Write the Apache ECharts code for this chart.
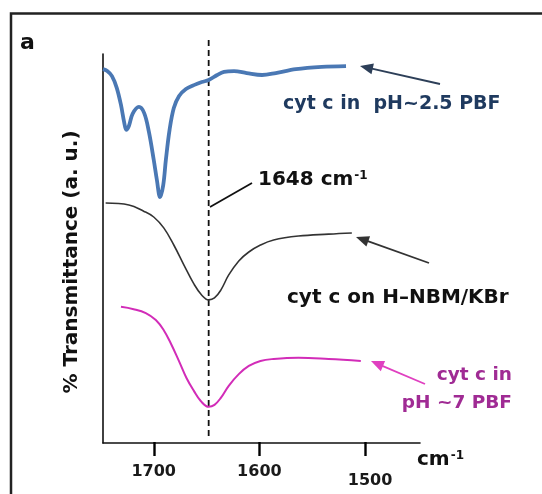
<!DOCTYPE html>
<html>
<head>
<meta charset="utf-8">
<script src="https://cdn.jsdelivr.net/npm/echarts@6/dist/echarts.min.js"></script>
<style>
  html, body { margin: 0; padding: 0; background: #fff; }
  #chart { width: 542px; height: 494px; }
</style>
</head>
<body>
<div id="chart"></div>
<script>
// FTIR amide I region, wavenumber (cm-1) vs. transmittance (offset traces, a.u.)
const tickValues = [1700, 1600, 1500];
const markerWavenumber = 1648;

// cyt c in pH~2.5 PBF
const acidicTrace = [
  [1748, 96.1], [1744, 95.6], [1739.5, 94.3], [1735, 91.3], [1731, 86.9],
  [1728, 82.5], [1726, 80.5], [1723.5, 81.5], [1720, 84.6], [1714, 86.4],
  [1709, 84.8], [1704.5, 79.9], [1700, 72.8], [1697, 67.6], [1694, 63.2],
  [1691, 66.3], [1688.5, 72.8], [1685, 80.5], [1681, 86.1], [1676, 89.2],
  [1669.5, 91.0], [1662, 92.0], [1654.5, 92.8], [1648, 93.3], [1640, 94.6],
  [1633.5, 95.4], [1624, 95.6], [1612, 95.1], [1597.5, 94.6], [1584.5, 95.1],
  [1565.5, 96.1], [1541, 96.7], [1518, 96.9]
];

// cyt c on H-NBM/KBr
const nbmTrace = [
  [1745.5, 61.7], [1723.5, 61.2], [1709.5, 59.6], [1700, 58.1], [1690.5, 55.3],
  [1681, 50.9], [1671.5, 45.8], [1662, 40.9], [1654.5, 38.0], [1648, 36.8],
  [1642.5, 37.3], [1636.5, 39.3], [1629, 43.2], [1619.5, 46.8], [1610, 49.1],
  [1599, 50.9], [1586.5, 52.2], [1563, 53.2], [1534.5, 53.7], [1512.5, 54.0]
];

// cyt c in pH ~7 PBF
const neutralTrace = [
  [1731, 35.0], [1719, 34.4], [1707.5, 33.4], [1698, 31.6], [1690.5, 29.0],
  [1684, 25.7], [1676.5, 21.3], [1669, 16.7], [1662, 13.4], [1655.5, 10.8],
  [1648, 9.3], [1642.5, 9.8], [1636.5, 11.6], [1629, 14.7], [1619.5, 17.7],
  [1610, 19.8], [1599, 21.1], [1586.5, 21.6], [1563, 21.9], [1534.5, 21.6],
  [1504, 21.1]
];

const FONT = '"DejaVu Sans", "Liberation Sans", Arial, sans-serif';
const TICK_LENGTH = 13;

function arrow(tip, tail, color, width) {
  const dx = tip[0] - tail[0], dy = tip[1] - tail[1];
  const len = Math.hypot(dx, dy);
  const ux = dx / len, uy = dy / len;
  const L = 13, W = 11;
  const bx = tip[0] - ux * L, by = tip[1] - uy * L;
  const nx = -uy, ny = ux;
  return [
    { type: 'line', silent: true,
      shape: { x1: tail[0], y1: tail[1], x2: bx + ux * 2, y2: by + uy * 2 },
      style: { stroke: color, lineWidth: width } },
    { type: 'polygon', silent: true,
      shape: { points: [tip, [bx + nx * W / 2, by + ny * W / 2], [bx - nx * W / 2, by - ny * W / 2]] },
      style: { fill: color } }
  ];
}

function label(x, y, text, size, align, color, rich) {
  return {
    type: 'text', silent: true, x: x, y: y,
    style: {
      text: text, align: align || 'left', verticalAlign: 'middle',
      fill: color || '#111', font: 'bold ' + size + 'px ' + FONT, rich: rich
    }
  };
}

const supRich = (size, color) => ({
  b: { fontSize: size, fontWeight: 'bold', fontFamily: FONT, color: color },
  s: { fontSize: Math.round(size * 0.6), fontWeight: 'bold', fontFamily: FONT, color: color,
       verticalAlign: 'top', padding: [0, 0, 0, 1] }
});

const chart = echarts.init(document.getElementById('chart'), null, { renderer: 'canvas' });

const xRange = { min: 1448, max: 1748 };
const plotSide = { left: 103, right: 122 };

chart.setOption({
  animation: false,
  backgroundColor: '#fff',
  grid: [
    // main plot
    Object.assign({ top: 54, bottom: 51, outerBoundsMode: 'none' }, plotSide),
    // band holding the 1648 cm-1 guide line (reaches above the plot frame)
    Object.assign({ top: 36, bottom: 58, outerBoundsMode: 'none' }, plotSide)
  ],
  xAxis: [
    {
      type: 'value', gridIndex: 0, inverse: true, min: xRange.min, max: xRange.max,
      splitLine: { show: false },
      axisLine: { show: true, onZero: false, lineStyle: { color: '#111', width: 1.6 } },
      axisTick: { show: false },
      axisLabel: {
        show: true, customValues: tickValues, margin: 21,
        color: '#1a1a1a', fontSize: 16, fontWeight: 'bold', fontFamily: FONT,
        formatter: v => (v === 1500 ? '{low|' + v + '}' : String(v)),
        rich: { low: { fontSize: 16, fontWeight: 'bold', fontFamily: FONT, color: '#1a1a1a', padding: [9, 0, 0, 10] } }
      }
    },
    {
      type: 'value', gridIndex: 1, inverse: true, min: xRange.min, max: xRange.max, show: false
    }
  ],
  yAxis: [
    {
      type: 'value', gridIndex: 0, min: 0, max: 100,
      splitLine: { show: false },
      axisLine: { show: true, lineStyle: { color: '#111', width: 1.6 } },
      axisTick: { show: false }, axisLabel: { show: false }
    },
    { type: 'value', gridIndex: 1, min: 0, max: 1, show: false }
  ],
  series: [
    {
      name: 'marker', type: 'line', xAxisIndex: 1, yAxisIndex: 1,
      data: [[markerWavenumber, 0], [markerWavenumber, 1]],
      symbol: 'none', silent: true,
      lineStyle: { color: '#111', width: 1.8, type: [6, 4] }, z: 1
    },
    {
      name: 'cyt c in pH~2.5 PBF', type: 'line', data: acidicTrace,
      symbol: 'none', smooth: 0.35,
      lineStyle: { color: '#4a78b4', width: 3.8 }, z: 3
    },
    {
      name: 'cyt c on H-NBM/KBr', type: 'line', data: nbmTrace,
      symbol: 'none', smooth: 0.4,
      lineStyle: { color: '#333', width: 1.6 }, z: 3
    },
    {
      name: 'cyt c in pH ~7 PBF', type: 'line', data: neutralTrace,
      symbol: 'none', smooth: 0.4,
      lineStyle: { color: '#d22cb8', width: 2 }, z: 3
    }
  ],
  graphic: [
    { type: 'rect', silent: true, shape: { x: 11, y: 13.5, width: 600, height: 600 },
      style: { fill: 'none', stroke: '#222', lineWidth: 2.5 } },
    label(20, 43, 'a', 22, 'left', '#111'),
    {
      type: 'text', silent: true, x: 72, y: 262, rotation: Math.PI / 2,
      style: { text: '% Transmittance (a. u.)', align: 'center', verticalAlign: 'middle',
               fill: '#111', font: 'bold 20px ' + FONT }
    },
    label(283, 104, 'cyt c in  pH~2.5 PBF', 19, 'left', '#1f3a5f'),
    { type: 'line', silent: true, shape: { x1: 210, y1: 207, x2: 252, y2: 183 },
      style: { stroke: '#111', lineWidth: 1.8 } },
    label(258, 180, '{b|1648 cm}{s|-1}', 20, 'left', '#111', supRich(20, '#111')),
    label(287, 298, 'cyt c on H\u2013NBM/KBr', 20, 'left', '#111'),
    label(512, 375, 'cyt c in', 18.5, 'right', '#a02b94'),
    label(512, 403, 'pH ~7 PBF', 18.5, 'right', '#a02b94'),
    label(417, 460, '{b|cm}{s|-1}', 20, 'left', '#111', supRich(20, '#111')),
    ...arrow([360, 66], [440, 84], '#2d3f58', 1.8),
    ...arrow([356, 237], [429, 263], '#333', 1.8),
    ...arrow([371, 361], [425, 384], '#e040c0', 1.8)
  ]
});

// outward tick marks, placed through the wavenumber axis scale
const axisY = chart.convertToPixel({ yAxisIndex: 0 }, 0);
chart.setOption({
  graphic: tickValues.map((v, i) => {
    const x = Math.round(chart.convertToPixel({ xAxisIndex: 0 }, v)) + 0.5;
    return {
      id: 'tick-' + i, type: 'line', silent: true, z: 100,
      shape: { x1: x, y1: axisY - 1, x2: x, y2: axisY + TICK_LENGTH },
      style: { stroke: '#000', lineWidth: 2.4 }
    };
  })
});
</script>
</body>
</html>
